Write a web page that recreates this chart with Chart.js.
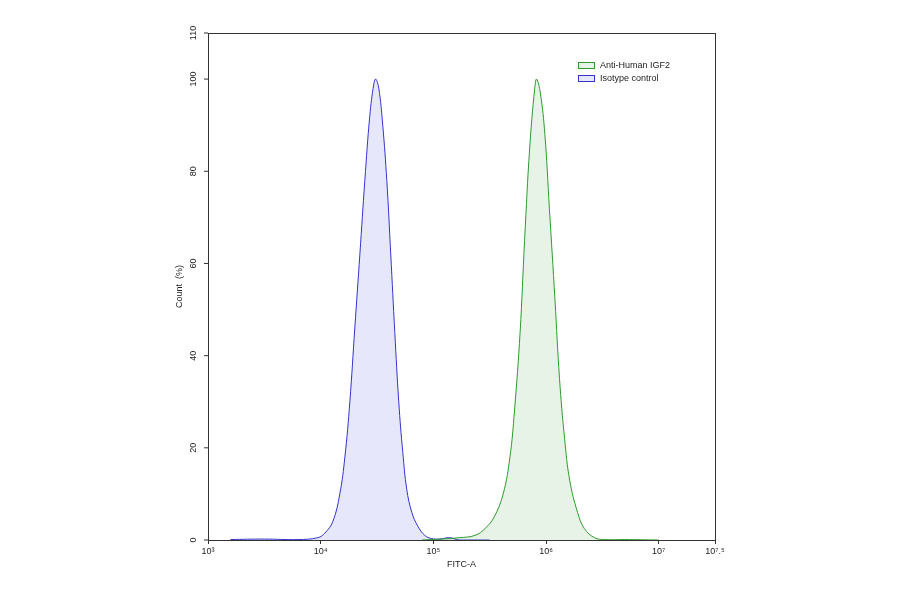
<!DOCTYPE html>
<html><head><meta charset="utf-8">
<script src="https://cdn.jsdelivr.net/npm/chart.js@4"></script>
<style>html,body{margin:0;padding:0;background:#fff}#w{width:900px;height:594px}</style>
</head><body><div id="w"><canvas id="c"></canvas></div>
<script>
const isoX=[3.2,3.5,3.8,3.975,4.037,4.108,4.17,4.215,4.259,4.303,4.348,4.392,4.436,4.472,4.489,4.516,4.551,4.587,4.622,4.658,4.693,4.729,4.764,4.809,4.862,4.924,4.986,5.057,5.145,5.23,5.5];
const isoY=[0.1,0.2,0.1,0.5,1.5,4,10,18,30,46,62,78,92,99,100,98,90,78,62,45,30,19,11,6,3,1,0.3,0.2,0.5,0,0];
const igfX=[4.9,5.06,5.23,5.37,5.46,5.54,5.62,5.68,5.72,5.77,5.81,5.855,5.9,5.917,5.95,5.99,6.03,6.08,6.12,6.165,6.21,6.28,6.34,6.43,6.52,6.7,7.0];
const igfY=[0,0.2,0.5,1,2.5,5,10,18,28,45,65,85,98,100,97,88,72,52,35,22,13,6,2.5,0.5,0.1,0.1,0];
const xTicks=[3,4,5,6,7,7.5];
const yTicks=[0,20,40,60,80,100,110];
const sup={'0':'⁰','1':'¹','2':'²','3':'³','4':'⁴','5':'⁵','6':'⁶','7':'⁷','.':'.'};
const toSup=s=>String(s).split('').map(c=>sup[c]||c).join('');
const pts=(xs,ys)=>xs.map((x,i)=>({x,y:ys[i]}));
const extra={id:'extra',afterDraw(ch){
 const {ctx,chartArea:a,scales}=ch;
 ctx.save();ctx.strokeStyle='#333';ctx.lineWidth=1;ctx.strokeRect(a.left+0.5,a.top+0.5,a.right-a.left,a.bottom-a.top);
 ctx.fillStyle='#222';ctx.font='9px "Liberation Sans", Arial';ctx.textAlign='center';ctx.textBaseline='bottom';
 yTicks.forEach(v=>{const y=scales.y.getPixelForValue(v);ctx.save();ctx.translate(a.left-10,y);ctx.rotate(-Math.PI/2);ctx.fillText(String(v),0,0);ctx.restore();
  ctx.beginPath();ctx.moveTo(a.left-4,y);ctx.lineTo(a.left,y);ctx.stroke();});
 ctx.save();ctx.translate(a.left-24,(a.top+a.bottom)/2);ctx.rotate(-Math.PI/2);ctx.fillText('Count  (%)',0,0);ctx.restore();
 const lx=578,ly=62;ctx.textAlign='left';ctx.textBaseline='middle';ctx.font='9px "Liberation Sans", Arial';
 [['Anti-Human IGF2','#2e9a2e','rgba(46,154,46,0.12)'],['Isotype control','#3333cc','rgba(60,60,220,0.12)']].forEach((d,i)=>{
  const y=ly+i*13;ctx.fillStyle=d[2];ctx.fillRect(lx,y,16,6);ctx.strokeStyle=d[1];ctx.strokeRect(lx+0.5,y+0.5,16,6);
  ctx.fillStyle='#222';ctx.fillText(d[0],lx+22,y+3.5);});
 ctx.restore();}};
new Chart(document.getElementById('c'),{type:'line',
 data:{datasets:[
  {label:'Anti-Human IGF2',data:pts(igfX,igfY),borderColor:'#2e9a2e',backgroundColor:'rgba(46,154,46,0.12)',fill:'origin',borderWidth:1,pointRadius:0,tension:0.4},
  {label:'Isotype control',data:pts(isoX,isoY),borderColor:'#3333cc',backgroundColor:'rgba(60,60,220,0.12)',fill:'origin',borderWidth:1,pointRadius:0,tension:0.4}]},
 options:{responsive:true,maintainAspectRatio:false,animation:false,
  layout:{padding:{left:178,right:185,top:33,bottom:20}},
  plugins:{legend:{display:false},tooltip:{enabled:false}},
  scales:{
   x:{type:'linear',min:3,max:7.5,afterBuildTicks:s=>{s.ticks=xTicks.map(v=>({value:v}));},
     afterFit:s=>{s.height=34;},
     grid:{drawOnChartArea:false,tickLength:4,color:'#333'},border:{color:'#333'},
     ticks:{color:'#222',font:{size:9,family:'"Liberation Sans", Arial'},maxRotation:0,autoSkip:false,padding:2,callback:v=>'10'+toSup(v)},
     title:{display:true,text:'FITC-A',color:'#222',font:{size:9,family:'"Liberation Sans", Arial'},padding:{top:6}}},
   y:{min:0,max:110,afterBuildTicks:s=>{s.ticks=yTicks.map(v=>({value:v}));},afterFit:s=>{s.width=30;},
     grid:{display:false},border:{color:'#333'},ticks:{display:false}}}},
 plugins:[extra]});
</script></body></html>
